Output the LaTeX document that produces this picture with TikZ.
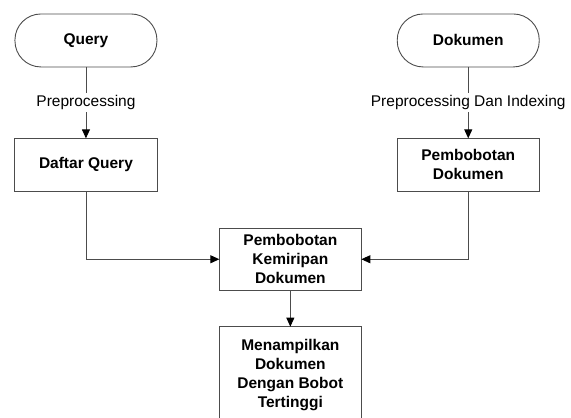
\documentclass[tikz,border=0pt]{standalone}
\usepackage{fontspec}
\setmainfont{Liberation Sans}
\usetikzlibrary{arrows.meta,positioning}

\begin{document}
\begin{tikzpicture}[x=1pt,y=1pt,
	  every node/.style={align=center,font=\fontsize{15.5}{19}\selectfont},
	  every matrix/.style={ampersand replacement=\&,inner sep=0pt,outer sep=0pt},
	  terminal/.style={draw=black!70,line width=0.9pt,rounded corners=26pt,inner sep=2pt,minimum width=142pt,minimum height=53pt,font=\fontsize{15.5}{19}\selectfont\bfseries},
	  process/.style={draw=black!70,line width=0.9pt,inner sep=2pt,minimum width=142pt,font=\fontsize{15.5}{19}\selectfont\bfseries},
	  to/.style={draw=black!70,line width=0.9pt,-{Triangle[length=9pt,width=8pt,color=black]}},
	  steplabel/.style={fill=white,inner sep=2pt}]

	  \path[use as bounding box,clip] (0,0) rectangle (571,-418);

	  % Position the nodes using a matrix layout
	  \matrix (flow) [anchor=north west] at (14.5,-13.5) {
	  \node[terminal] (query) {Query}; \&[61.5pt] \&[35pt] \node[terminal] (dokumen) {Dokumen}; \\[70.5pt]
	  \node[process,minimum height=53pt] (daftar) {Daftar Query}; \& \& \node[process,minimum height=53pt] (pdokumen) {Pembobotan\\Dokumen}; \\[36pt]
	  \& \node[process,minimum height=62pt] (kemiripan) {Pembobotan\\Kemiripan\\Dokumen}; \& \\[35.5pt]
	  \& \node[process,minimum height=97pt] (tampil) {Menampilkan\\Dokumen\\Dengan Bobot\\Tertinggi}; \& \\
	  };

	  \draw[to] (query) -- node[steplabel] {Preprocessing} (daftar);
	  \draw[to] (dokumen) -- node[steplabel] {Preprocessing Dan Indexing} (pdokumen);
	  \draw[to] (daftar) |- (kemiripan);
	  \draw[to] (pdokumen) |- (kemiripan);
	  \draw[to] (kemiripan) -- (tampil);

\end{tikzpicture}
\end{document}
